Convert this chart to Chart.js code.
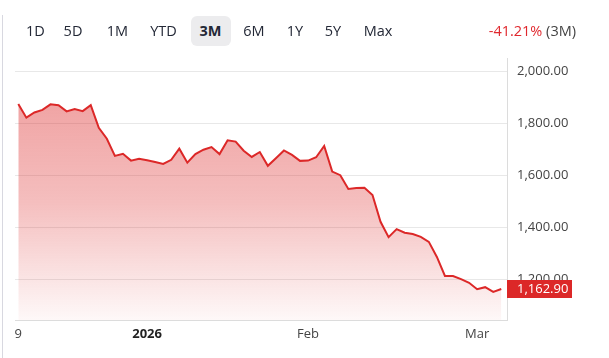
<!DOCTYPE html>
<html>
<head>
<meta charset="utf-8">
<script src="https://cdn.jsdelivr.net/npm/chart.js@4"></script>
<style>
  html,body{margin:0;padding:0;background:#fff;}
  #wrap{position:relative;width:609px;height:358px;overflow:hidden;font-family:"Open Sans","Noto Sans",sans-serif;}
  #c{position:absolute;left:0;top:0;}
  .btn{position:absolute;top:16px;height:30px;line-height:30px;font-size:14.5px;color:#232836;transform:translateX(-50%);white-space:nowrap;}
  .sel{background:#ececee;border-radius:6px;width:40px;text-align:center;font-weight:bold;}
  #chg{position:absolute;right:33px;top:16px;height:30px;line-height:30px;font-size:14.5px;color:#444;white-space:nowrap;}
  #chg .neg{color:#e0282e;}
  #lb{position:absolute;left:2px;top:15px;width:1px;height:343px;background:#d8d8e0;}
</style>
</head>
<body>
<div id="wrap">
  <canvas id="c" width="609" height="358"></canvas>
  <div id="lb"></div>
  <div id="hdr"></div>
  <div id="chg"><span class="neg">-41.21%</span> (3M)</div>
</div>
<script>
// ---- data ----
const rangeButtons = ['1D','5D','1M','YTD','3M','6M','1Y','5Y','Max'];
const selectedRange = '3M';
const values = [
  1873,1821,1841,1851,1872,1869,1845,1854,1846,1869,
  1782,1740,1674,1682,1656,1663,1657,1651,1643,1659,
  1702,1648,1681,1698,1708,1681,1734,1729,1694,1670,
  1689,1636,1665,1695,1678,1655,1656,1669,1712,1614,
  1600,1547,1551,1552,1524,1421,1362,1393,1379,1374,
  1363,1344,1286,1213,1213,1201,1187,1162,1170,1152,
  1162.90
];
const xTickIndex = [0, 16, 36, 57];
const xTickText = ['9', '2026', 'Feb', 'Mar'];
const yTickValues = [1200, 1400, 1600, 1800, 2000];
const lastLabel = '1,162.90';

// ---- header ----
const btnCenters = [35.3, 73, 117.4, 163.5, 210.5, 254, 295, 333, 378];
const hdr = document.getElementById('hdr');
rangeButtons.forEach((b, i) => {
  const d = document.createElement('div');
  d.className = 'btn' + (b === selectedRange ? ' sel' : '');
  d.style.left = btnCenters[i] + 'px';
  d.textContent = b;
  hdr.appendChild(d);
});

// ---- chart ----
const RED = '#dc2828';
const lastValuePlugin = {
  id: 'lastValue',
  afterDraw(chart) {
    const y = chart.scales.y.getPixelForValue(values[values.length - 1]);
    const ctx = chart.ctx;
    const x0 = chart.chartArea.right;
    ctx.save();
    ctx.fillStyle = RED;
    ctx.fillRect(x0, Math.round(y) - 9, 65, 18);
    ctx.fillStyle = '#fff';
    ctx.font = '13px "Open Sans", "Noto Sans", sans-serif';
    ctx.textBaseline = 'middle';
    ctx.textAlign = 'left';
    ctx.fillText(lastLabel, x0 + 10, Math.round(y) + 0.5);
    ctx.restore();
  }
};

new Chart(document.getElementById('c'), {
  type: 'line',
  data: {
    datasets: [{
      data: values.map((v, i) => ({x: i, y: v})),
      borderColor: RED,
      borderWidth: 2,
      pointRadius: 0,
      tension: 0,
      fill: 'start',
      backgroundColor: (ctx) => {
        const ca = ctx.chart.chartArea;
        if (!ca) return 'rgba(220,40,40,0.3)';
        const g = ctx.chart.ctx.createLinearGradient(0, ca.top, 0, ca.bottom);
        g.addColorStop(0, 'rgba(220,40,40,0.48)');
        g.addColorStop(0.55, 'rgba(220,40,40,0.30)');
        g.addColorStop(1, 'rgba(220,40,40,0.03)');
        return g;
      }
    }]
  },
  options: {
    responsive: false,
    animation: false,
    devicePixelRatio: 1,
    layout: {padding: {left: 15, top: 58, right: 0, bottom: 0}},
    plugins: {legend: {display: false}, tooltip: {enabled: false}},
    scales: {
      x: {
        type: 'linear',
        min: -0.41,
        max: 60.71,
        grid: {display: false, drawTicks: false},
        border: {display: true, color: '#dcdcdc'},
        afterBuildTicks: (s) => { s.ticks = xTickIndex.map(v => ({value: v})); },
        afterFit: (s) => { s.height = 38; },
        ticks: {
          autoSkip: false,
          maxRotation: 0,
          padding: 6,
          color: (c) => (c.tick && c.tick.value === 16) ? '#222' : '#444',
          font: (c) => ({family: '"Open Sans", "Noto Sans", sans-serif', size: 13, weight: (c.tick && c.tick.value === 16) ? 'bold' : 'normal'}),
          callback: (v) => { const k = xTickIndex.indexOf(v); return k >= 0 ? xTickText[k] : ''; }
        }
      },
      y: {
        position: 'right',
        min: 1044,
        max: 2050,
        grid: {color: '#e8e8e8', drawTicks: false},
        border: {display: true, color: '#dcdcdc'},
        afterBuildTicks: (s) => { s.ticks = yTickValues.map(v => ({value: v})); },
        afterFit: (s) => { s.width = 102; },
        ticks: {
          padding: 10,
          color: '#444',
          font: {family: '"Open Sans", "Noto Sans", sans-serif', size: 13},
          callback: (v) => Number(v).toLocaleString('en-US', {minimumFractionDigits: 2, maximumFractionDigits: 2})
        }
      }
    }
  },
  plugins: [lastValuePlugin]
});
</script>
</body>
</html>
